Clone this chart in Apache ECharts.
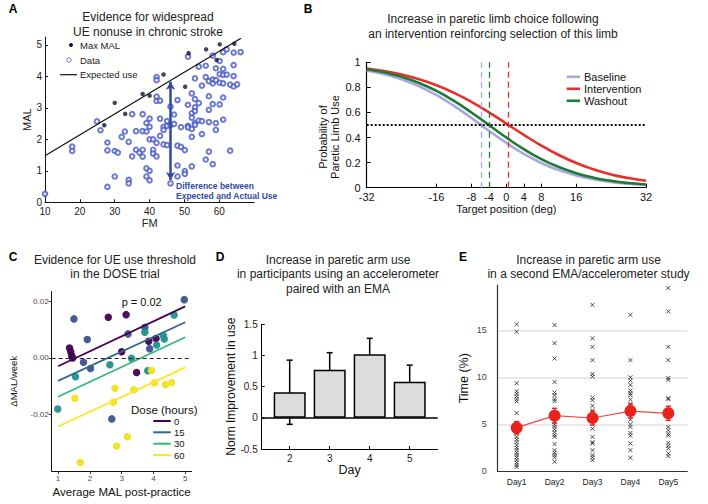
<!DOCTYPE html>
<html><head><meta charset="utf-8">
<script src="https://cdn.jsdelivr.net/npm/echarts@6/dist/echarts.min.js"></script>
<style>html,body{margin:0;padding:0;background:#fff}#c{width:708px;height:504px}</style>
</head><body><div id="c"></div>
<script>
const FONT = '"Liberation Sans", Arial, Helvetica, sans-serif';

// ---------- Panel A data ----------
const aMaxMal = [[27,2.45],[30,3.16],[33,2.81],[38,3.44],[40,3.39],[44,4.06],[50.2,3.67],[51.2,4.74],[56.2,4.86],[59.2,4.52],[60.1,5.02],[64.3,5.04]];
const aData = [[10,0.27],[17.8,1.77],[17.8,1.63],[24.9,2.57],[25.9,2.29],[27.9,1.90],[27.9,1.65],[27.9,0.49],[30,1.63],[30.9,1.58],[30,0.82],[32,2.08],[32.9,2.25],[34,1.92],[34,0.71],[34,0.60],[35,2.80],[35,1.46],[36.1,2.26],[36.1,1.67],[37.1,1.58],[38,2.80],[38,2.26],[38,1.67],[38,1.45],[39.1,2.52],[39.1,2.25],[39.1,1.08],[39.1,0.82],[40,2.66],[40,2.40],[40,2.00],[40,1.00],[40,0.70],[41,2.00],[41,1.67],[41,1.55],[42,3.98],[42,3.88],[42,3.36],[42,3.22],[42,1.89],[42,1.46],[43,3.23],[43,2.66],[43,2.11],[44,2.40],[44,2.30],[44,1.84],[45,2.58],[45,2.43],[45,1.82],[46,3.04],[46,2.45],[46,0.60],[47,2.79],[47,2.49],[48,3.25],[48,1.80],[48,1.17],[48,0.82],[49,2.39],[49,1.76],[50.1,1.66],[50.1,0.99],[50.1,0.90],[51,4.63],[51,3.10],[51,2.43],[51,2.38],[52.1,3.46],[52.1,2.83],[52.1,2.69],[52.1,2.33],[52.1,2.08],[52.1,1.14],[53,3.94],[53,3.28],[53,3.02],[53,2.90],[53,2.52],[53,2.46],[54.1,4.31],[54.1,3.15],[54.1,2.60],[55,3.71],[55,2.58],[55,2.17],[56.1,4.34],[56.1,3.98],[56.1,1.36],[57,3.85],[57,3.37],[57,2.94],[57,2.55],[57,1.61],[58.1,4.66],[58.1,3.90],[58.1,3.78],[58.1,3.12],[58.1,1.21],[59,4.26],[59,3.88],[59,2.52],[59,2.30],[60.1,4.07],[60.1,3.80],[60.1,3.11],[60.1,4.49],[61.1,4.77],[61.1,4.24],[61.1,4.05],[61.1,3.78],[61.1,3.33],[61.1,2.63],[62.1,4.86],[62.1,4.06],[63.1,3.74],[63.1,1.64],[64.1,4.76],[64.1,4.36],[64.1,4.01],[64.1,3.68],[65.1,3.75],[66.1,4.77]];
const aExpected = [[10,1.48],[66.2,5.21]];
const aGap = {fm: 46, top: 3.83, bottom: 0.71};
const aXTicks = [10,20,30,40,50,60];

// ---------- Panel B data ----------
const bX = [-32,-28,-24,-20,-16,-12,-8,-4,0,4,8,12,16,20,24,28,32];
const bBaseline = [0.935,0.905,0.864,0.809,0.738,0.653,0.556,0.454,0.357,0.270,0.197,0.141,0.098,0.068,0.046,0.031,0.021];
const bIntervention = [0.950,0.930,0.902,0.865,0.817,0.756,0.684,0.601,0.511,0.421,0.336,0.261,0.197,0.146,0.106,0.077,0.055];
const bWashout = [0.945,0.920,0.884,0.835,0.772,0.692,0.600,0.500,0.400,0.307,0.228,0.165,0.116,0.080,0.055,0.037,0.025];
const bThresholds = {baseline: -5.8, intervention: 0.5, washout: -4.0};
const bXTicks = [-32,-16,-8,-4,0,4,8,16,32];

// ---------- Panel C data ----------
const cDose0 = [[1.36,0.0035],[1.40,0.0022],[1.43,0.0008],[1.46,0.0000],[2.58,0.0144],[3.14,0.0153],[3.00,0.0022],[3.85,0.0059],[4.08,0.0069],[3.47,-0.0051]];
const cDose15 = [[1.50,0.0138],[1.92,0.0065],[1.80,-0.0015],[2.02,-0.0037],[2.69,-0.0215],[3.20,0.0085],[3.73,0.0108],[3.88,0.0033],[4.97,0.0206]];
const cDose30 = [[0.99,-0.0180],[1.55,-0.0066],[2.63,-0.0024],[3.31,-0.0001],[3.73,0.0091],[3.82,-0.0045],[4.10,0.0046],[4.31,0.0079],[4.34,0.0067],[4.65,0.0152]];
const cDose60 = [[1.53,-0.0142],[2.74,-0.0156],[2.79,-0.0107],[3.38,-0.0112],[2.84,-0.0311],[3.18,-0.0278],[1.70,-0.0369],[3.94,-0.0044],[4.03,-0.0088],[4.38,-0.0094],[4.57,-0.0087]];
const cFitX = [1, 5];
const cFit0 = [-0.0029, 0.0182];
const cFit15 = [-0.0081, 0.0126];
const cFit30 = [-0.0137, 0.0073];
const cFit60 = [-0.0242, -0.0033];
const cDoseLabels = ['0','15','30','60'];

// ---------- Panel D data ----------
const dDays = [2,3,4,5];
const dMeans = [0.41,0.77,1.02,0.58];
const dErr = [0.515,0.275,0.255,0.265];

// ---------- Panel E data ----------
const eDays = ['Day1','Day2','Day3','Day4','Day5'];
const eDay1 = [15.63,14.86,9.37,8.52,8.24,7.96,7.68,7.43,6.20,5.07,4.72,4.37,4.01,3.66,3.38,3.10,2.78,2.50,2.25,1.97,1.73,1.48,1.20,0.92,0.67,0.46];
const eDay2 = [15.56,13.63,12.0,9.51,8.38,8.10,7.68,7.46,5.53,5.25,4.96,4.72,4.44,4.15,3.87,3.66,2.89,2.25,1.97,1.73,1.48,1.02];
const eDay3 = [17.71,14.15,13.24,11.83,10.35,10.07,7.85,7.57,6.97,6.48,4.54,3.66,3.10,2.96,2.25,1.73,1.48,1.20];
const eDay4 = [16.65,11.83,10.0,9.65,9.19,8.59,8.31,8.10,7.64,7.18,5.49,5.0,4.72,4.08,3.80,2.96,2.25,1.44];
const eDay5 = [19.51,17.01,13.24,11.83,9.93,9.72,7.78,7.68,6.48,6.13,5.77,4.72,4.37,4.01,3.80,3.03,2.71,2.43,1.90,1.62];
const eMeans = [4.64,5.92,5.67,6.41,6.17];
const eSE = [0.65,0.78,0.75,0.75,0.75];
const eGridLines = [5,10,15];

// ---------- helpers ----------
const txt = (text, x, y, o) => ({type:'text', x, y, silent:true, style: Object.assign({text, fill:'#222', font:'12px ' + FONT, align:'center', verticalAlign:'middle'}, o || {})});
const seg = (x1,y1,x2,y2,stroke,lw,extra) => ({type:'line', silent:true, shape:{x1,y1,x2,y2}, style:Object.assign({stroke, lineWidth:lw}, extra||{})});
const axLine = (c, w) => ({show:true, onZero:false, lineStyle:{color:c||'#000', width:w||1}});
const lab = (size, color, margin, extra) => Object.assign({fontSize:size, color:color||'#222', margin:margin, fontFamily:FONT}, extra||{});

const dColors = ['#440154','#3b528b','#21908d','#f2e01d'];
const fitColors = ['#440154','#31688e','#35b779','#fde725'];
const cDoseSets = [cDose0, cDose15, cDose30, cDose60];
const cFits = [cFit0, cFit15, cFit30, cFit60];

const chart = echarts.init(document.getElementById('c'), null, {renderer:'svg'});

const series = [];
// A
series.push({type:'line', xAxisIndex:0, yAxisIndex:0, data:aExpected, symbol:'none', lineStyle:{color:'#111', width:1.2}, z:3,
  markLine:{silent:true, symbol:['arrow','arrow'], symbolSize:[7,8], label:{show:false},
    lineStyle:{color:'#2f4aa5', width:2.5, type:'solid'},
    data:[[{coord:[aGap.fm, aGap.top]},{coord:[aGap.fm, aGap.bottom]}]]}});
series.push({type:'scatter', xAxisIndex:0, yAxisIndex:0, data:aData, symbol:'emptyCircle', symbolSize:4.6,
  itemStyle:{color:'#4657c4', borderWidth:0.8}, z:2});
series.push({type:'scatter', xAxisIndex:0, yAxisIndex:0, data:aMaxMal, symbol:'circle', symbolSize:4.5,
  itemStyle:{color:'#141438'}, z:4});
// B
const bSer = [['Baseline', bBaseline, '#a9a7e0', bThresholds.baseline],
              ['Intervention', bIntervention, '#e8302a', bThresholds.intervention],
              ['Washout', bWashout, '#1f7a35', bThresholds.washout]];
bSer.forEach(([name, vals, col, th], i) => {
  const ml = [{xAxis: th, lineStyle:{color:col, type:[6,4], width:1.3}}];
  if (i === 0) ml.push({yAxis: 0.5, lineStyle:{color:'#000', type:[2,2], width:2}});
  series.push({type:'line', name, xAxisIndex:1, yAxisIndex:1, data: bX.map((x,k)=>[x, vals[k]]), smooth:true, symbol:'none',
    lineStyle:{color:col, width:2.6}, z:3,
    markLine:{silent:true, symbol:'none', label:{show:false}, data: ml, z:5}});
});
// C
cDoseSets.forEach((pts, i) => {
  series.push({type:'scatter', xAxisIndex:2, yAxisIndex:2, data:pts, symbolSize:7.5,
    itemStyle:{color:dColors[i], opacity:0.95}, z:2});
});
cFits.forEach((f, i) => {
  const s = {type:'line', xAxisIndex:2, yAxisIndex:2, data: cFitX.map((x,k)=>[x, f[k]]), symbol:'none',
    lineStyle:{color:fitColors[i], width:1.8}, z:3};
  if (i === 0) s.markLine = {silent:true, symbol:'none', label:{show:false}, data:[{yAxis:0}], lineStyle:{color:'#222', type:[4,3], width:1}};
  series.push(s);
});
// D
series.push({type:'custom', xAxisIndex:3, yAxisIndex:3, z:1,
  data: dDays.map((d,i)=>[d, dMeans[i], dErr[i]]),
  encode:{x:0, y:1},
  renderItem: (params, api) => {
    const x = api.value(0), m = api.value(1), e = api.value(2);
    const t = api.coord([x, m+e]), b = api.coord([x, m-e]);
    const st = {stroke:'#000', lineWidth:1.5};
    return {type:'group', children:[
      {type:'line', shape:{x1:t[0],y1:t[1],x2:b[0],y2:b[1]}, style:st},
      {type:'line', shape:{x1:t[0]-3,y1:t[1],x2:t[0]+3,y2:t[1]}, style:st},
      {type:'line', shape:{x1:b[0]-3,y1:b[1],x2:b[0]+3,y2:b[1]}, style:st}]};
  }});
series.push({type:'bar', xAxisIndex:3, yAxisIndex:3, data: dDays.map((d,i)=>[d, dMeans[i]]), barWidth:32, z:2,
  itemStyle:{color:'#dcdcdc', borderColor:'#000', borderWidth:1.5},
  markLine:{silent:true, symbol:'none', label:{show:false}, data:[{yAxis:0}], lineStyle:{color:'#000', type:'solid', width:1.5}}});
// E
const eSets = [eDay1, eDay2, eDay3, eDay4, eDay5];
const eScatter = [];
eSets.forEach((arr, i) => arr.forEach(v => eScatter.push([eDays[i], v])));
series.push({type:'scatter', xAxisIndex:4, yAxisIndex:4, data:eScatter, symbol:'path://M0 0L10 10M10 0L0 10', symbolSize:4,
  itemStyle:{color:'none', borderColor:'#222', borderWidth:1}, z:2,
  markLine:{silent:true, symbol:'none', label:{show:false}, data: eGridLines.map(v=>({yAxis:v})), lineStyle:{color:'#e2e2e2', type:'solid', width:1.5}, z:0}});
series.push({type:'custom', xAxisIndex:4, yAxisIndex:4, z:3,
  data: eMeans.map((m,i)=>[i, m, eSE[i]]),
  encode:{x:0, y:1},
  renderItem: (params, api) => {
    const x = api.value(0), m = api.value(1), e = api.value(2);
    const t = api.coord([x, m+e]), b = api.coord([x, m-e]);
    const st = {stroke:'#e8231c', lineWidth:1.5};
    return {type:'group', children:[
      {type:'line', shape:{x1:t[0],y1:t[1],x2:b[0],y2:b[1]}, style:st},
      {type:'line', shape:{x1:t[0]-2.5,y1:t[1],x2:t[0]+2.5,y2:t[1]}, style:st},
      {type:'line', shape:{x1:b[0]-2.5,y1:b[1],x2:b[0]+2.5,y2:b[1]}, style:st}]};
  }});
series.push({type:'line', xAxisIndex:4, yAxisIndex:4, data:eMeans, symbol:'circle', symbolSize:12, z:4,
  itemStyle:{color:'#e8231c'}, lineStyle:{color:'#ee4a40', width:1.2}});

const option = {
  animation:false,
  backgroundColor:'#fff',
  textStyle:{fontFamily:FONT},
  grid:[
    {left:45, top:37.1, width:209.2, height:165.2},
    {left:366.7, top:62.3, width:279.3, height:125.4},
    {left:51.7, top:291.7, width:139.9, height:179.3},
    {left:261.7, top:324.3, width:176, height:124.7},
    {left:497.7, top:285.2, width:189.6, height:186.1}
  ],
  xAxis:[
    {gridIndex:0, type:'value', min:10, max:70, interval:10, axisLine:axLine('#111'),
      axisTick:{inside:true, length:3, customValues:aXTicks, lineStyle:{color:'#111'}},
      axisLabel:lab(10,'#222',4,{customValues:aXTicks}), splitLine:{show:false},
      name:'FM', nameLocation:'middle', nameGap:14, nameTextStyle:{fontSize:11, color:'#222', fontFamily:FONT}},
    {gridIndex:1, type:'value', min:-32, max:32, axisLine:axLine('#000',1.2),
      axisTick:{inside:true, length:4, customValues:bXTicks, lineStyle:{color:'#000'}},
      axisLabel:lab(11,'#111',4,{customValues:bXTicks}), splitLine:{show:false},
      name:'Target position (deg)', nameLocation:'middle', nameGap:16, nameTextStyle:{fontSize:11, color:'#111', fontFamily:FONT}},
    {gridIndex:2, type:'value', min:0.8, max:5.2, axisLine:axLine('#111'),
      axisTick:{inside:false, length:3, customValues:[1,2,3,4,5], lineStyle:{color:'#333'}},
      axisLabel:lab(8,'#4d4d4d',3,{customValues:[1,2,3,4,5]}), splitLine:{show:false},
      name:'Average MAL post-practice', nameLocation:'middle', nameGap:15, nameTextStyle:{fontSize:11.5, color:'#111', fontFamily:FONT}},
    {gridIndex:3, type:'value', min:1.3, max:5.7, axisLine:axLine('#000'),
      axisTick:{inside:true, length:3, customValues:dDays, lineStyle:{color:'#000'}},
      axisLabel:lab(10,'#222',4,{customValues:dDays}), splitLine:{show:false},
      name:'Day', nameLocation:'middle', nameGap:14, nameTextStyle:{fontSize:12.5, color:'#111', fontFamily:FONT}},
    {gridIndex:4, type:'category', data:eDays, boundaryGap:true, axisLine:axLine('#333',1.2),
      axisTick:{show:false}, axisLabel:lab(8.5,'#222',6), splitLine:{show:false}}
  ],
  yAxis:[
    {gridIndex:0, type:'value', min:0, max:5.25, interval:1, axisLine:axLine('#111'),
      axisTick:{inside:true, length:3, customValues:[0,1,2,3,4,5], lineStyle:{color:'#111'}},
      axisLabel:lab(10,'#222',3,{customValues:[0,1,2,3,4,5]}), splitLine:{show:false},
      name:'MAL', nameLocation:'middle', nameGap:8, nameTextStyle:{fontSize:11, color:'#222', fontFamily:FONT}},
    {gridIndex:1, type:'value', min:0, max:1, interval:0.2, axisLine:axLine('#000',1.2),
      axisTick:{inside:true, length:4, lineStyle:{color:'#000'}},
      axisLabel:lab(11,'#111',6,{formatter: v => (v===0 ? '0' : (Math.abs(v-1)<1e-9 ? '1' : v.toFixed(1)))}), splitLine:{show:false}},
    {gridIndex:2, type:'value', min:-0.0399, max:0.0234, axisLine:axLine('#111'),
      axisTick:{inside:false, length:3, customValues:[-0.02,0,0.02], lineStyle:{color:'#333'}},
      axisLabel:lab(8,'#4d4d4d',3,{customValues:[-0.02,0,0.02], formatter: v => v.toFixed(2)}), splitLine:{show:false},
      name:'ΔMAL/week', nameLocation:'middle', nameGap:33, nameTextStyle:{fontSize:9.5, color:'#111', fontFamily:FONT}},
    {gridIndex:3, type:'value', min:-0.5, max:1.5, interval:0.5, axisLine:axLine('#000'),
      axisTick:{inside:true, length:3, lineStyle:{color:'#000'}},
      axisLabel:lab(10,'#222',4,{formatter: v => String(v)}), splitLine:{show:false},
      name:'Norm Improvement in use', nameLocation:'middle', nameGap:24, nameTextStyle:{fontSize:12, color:'#111', fontFamily:FONT}},
    {gridIndex:4, type:'value', min:0, max:19.8, interval:5, axisLine:axLine('#333',1.2),
      axisTick:{show:false},
      axisLabel:lab(9,'#444',11,{customValues:[0,5,10,15]}), splitLine:{show:false},
      name:'Time (%)', nameLocation:'middle', nameGap:27, nameTextStyle:{fontSize:12.5, color:'#111', fontFamily:FONT}}
  ],
  series,
  graphic:[
    // panel letters
    txt('A', 13, 9, {font:'bold 12px '+FONT, fill:'#000'}),
    txt('B', 308, 9, {font:'bold 12px '+FONT, fill:'#000'}),
    txt('C', 13, 257, {font:'bold 12px '+FONT, fill:'#000'}),
    txt('D', 220, 257, {font:'bold 12px '+FONT, fill:'#000'}),
    txt('E', 463, 257, {font:'bold 12px '+FONT, fill:'#000'}),
    // titles
    txt('Evidence for widespread', 148, 17),
    txt('UE nonuse in chronic stroke', 148, 32),
    txt('Increase in paretic limb choice following', 493, 19),
    txt('an intervention reinforcing selection of this limb', 493, 33.5),
    txt('Evidence for UE use threshold', 115, 259.5),
    txt('in the DOSE trial', 115, 274),
    txt('Increase in paretic arm use', 338, 259.5),
    txt('in participants using an accelerometer', 338, 274),
    txt('paired with an EMA', 338, 288.5),
    txt('Increase in paretic arm use', 588.5, 259.5),
    txt('in a second EMA/accelerometer study', 588.5, 274),
    // A legend
    {type:'circle', silent:true, shape:{cx:71, cy:45, r:2}, style:{fill:'#141438'}},
    txt('Max MAL', 80, 45, {align:'left', font:'9.5px '+FONT}),
    {type:'circle', silent:true, shape:{cx:69, cy:60, r:2.2}, style:{fill:'none', stroke:'#4657c4', lineWidth:0.8}},
    txt('Data', 80, 60, {align:'left', font:'9.5px '+FONT}),
    seg(60, 74.7, 77, 74.7, '#111', 1.2),
    txt('Expected use', 80, 74.7, {align:'left', font:'9.5px '+FONT}),
    txt('Difference between', 176, 186, {align:'left', font:'bold 8.5px '+FONT, fill:'#2f4aa5'}),
    txt('Expected and Actual Use', 176, 196, {align:'left', font:'bold 8.5px '+FONT, fill:'#2f4aa5'}),
    // B y name (rotated, reads bottom to top)
    txt('Probability of\nParetic Limb Use', 329, 137, {font:'11px '+FONT, fill:'#111', lineHeight:12}),
    // B legend
    seg(566.7, 76.8, 580, 76.8, '#a9a7e0', 2.6),
    txt('Baseline', 584, 76.8, {align:'left', font:'11px '+FONT, fill:'#111'}),
    seg(566.7, 88.8, 580, 88.8, '#e8302a', 2.6),
    txt('Intervention', 584, 88.8, {align:'left', font:'11px '+FONT, fill:'#111'}),
    seg(566.7, 100.8, 580, 100.8, '#1f7a35', 2.6),
    txt('Washout', 584, 100.8, {align:'left', font:'11px '+FONT, fill:'#111'}),
    // C annotations
    txt('p = 0.02', 141.7, 301.5, {font:'11px '+FONT, fill:'#111'}),
    txt('Dose (hours)', 131, 410, {align:'left', font:'11.5px '+FONT, fill:'#111'}),
    seg(153.3, 421, 170.7, 421, fitColors[0], 2),
    txt(cDoseLabels[0], 174, 421, {align:'left', font:'9.5px '+FONT, fill:'#111'}),
    seg(153.3, 432.3, 170.7, 432.3, fitColors[1], 2),
    txt(cDoseLabels[1], 174, 432.3, {align:'left', font:'9.5px '+FONT, fill:'#111'}),
    seg(153.3, 443.7, 170.7, 443.7, fitColors[2], 2),
    txt(cDoseLabels[2], 174, 443.7, {align:'left', font:'9.5px '+FONT, fill:'#111'}),
    seg(153.3, 455, 170.7, 455, fitColors[3], 2),
    txt(cDoseLabels[3], 174, 455, {align:'left', font:'9.5px '+FONT, fill:'#111'})
  ]
};
option.graphic.forEach(g => { if (g.style && g.style.text === 'Probability of\nParetic Limb Use') g.rotation = Math.PI/2; });
chart.setOption(option);
</script>
</body></html>
